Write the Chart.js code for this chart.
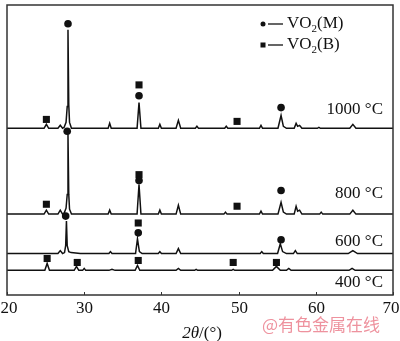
<!DOCTYPE html>
<html>
<head>
<meta charset="utf-8">
<script src="https://cdn.jsdelivr.net/npm/chart.js@4"></script>
<style>
	html, body { margin: 0; padding: 0; background: #fff; }
	#wrap { width: 400px; height: 341px; }
</style>
</head>
<body>
<div id="wrap"><canvas id="xrd"></canvas></div>
<script>
// 2θ positions and counts above each trace's own baseline
const theta1000 = [20, 24.8, 25.1, 25.4, 26.6, 26.9, 27.2, 27.4, 27.65, 27.8, 27.9, 28.0, 28.1, 28.35, 33.1, 33.3, 33.5, 36.85, 37.1, 37.35, 39.6, 39.8, 40.0, 41.9, 42.2, 42.5, 44.4, 44.6, 44.8, 48.2, 48.4, 48.6, 52.7, 52.9, 53.1, 55.1, 55.5, 55.8, 56.2, 57.2, 57.45, 57.65, 57.9, 58.2, 60.2, 60.4, 60.6, 64.4, 64.8, 65.2, 70];
const counts1000 = [0, 0, 4, 0, 0, 3, 0, 1, 6, 22, 100, 24, 6, 0, 0, 5, 0, 0, 26, 0, 0, 4, 0, 0, 8, 0, 0, 2, 0, 0, 2, 0, 0, 3, 0, 0, 13, 2, 0, 0, 5, 2, 3, 0, 0, 1, 0, 0, 4, 0, 0];

const theta800 = [20, 24.8, 25.1, 25.4, 26.6, 26.9, 27.2, 27.4, 27.65, 27.8, 27.9, 28.0, 28.1, 28.35, 33.1, 33.3, 33.5, 36.85, 37.1, 37.35, 39.6, 39.8, 40.0, 41.9, 42.2, 42.5, 48.1, 48.3, 48.5, 52.7, 52.9, 53.1, 55.1, 55.5, 55.8, 56.2, 57.2, 57.45, 57.65, 57.9, 58.2, 60.5, 60.7, 60.9, 64.4, 64.8, 65.2, 70];
const counts800 = [0, 0, 4, 0, 0, 4, 0, 1, 6, 20, 81, 20, 5, 0, 0, 4, 0, 0, 30, 0, 0, 4, 0, 0, 9, 0, 0, 2, 0, 0, 3, 0, 0, 12, 2, 0, 0, 8, 3, 4, 0, 0, 2, 0, 0, 4, 0, 0];

const theta600 = [20, 26.6, 26.9, 27.2, 27.45, 27.6, 27.7, 27.8, 28.0, 28.3, 29.5, 33.2, 33.4, 33.6, 36.65, 36.9, 37.15, 37.5, 39.6, 39.8, 40.0, 41.9, 42.2, 42.5, 52.8, 53.0, 53.2, 55.05, 55.4, 55.7, 56.2, 57.1, 57.35, 57.6, 64.2, 64.8, 65.4, 70];
const counts600 = [0, 0, 3, 0, 1, 8, 33, 8, 2, 1, 0, 0, 2, 0, 0, 15, 2, 0, 0, 2, 0, 0, 5, 0, 0, 2, 0, 0, 10, 2, 0, 0, 3, 0, 0, 3, 0, 0];

const theta400 = [20, 24.9, 25.2, 25.5, 28.7, 29.0, 29.3, 29.8, 30.0, 30.2, 33.2, 33.6, 34.0, 36.6, 36.9, 37.2, 41.9, 42.2, 42.5, 44.3, 44.5, 44.7, 49.1, 49.3, 49.5, 54.4, 54.9, 55.4, 56.2, 56.5, 56.8, 64.3, 64.7, 65.1, 70];
const counts400 = [0, 0, 7, 0, 0, 4, 0, 0, 2, 0, 0, 1, 0, 0, 5, 0, 0, 2, 0, 0, 1, 0, 0, 1, 0, 0, 4, 0, 0, 2, 0, 0, 2, 0, 0];

// vertical shift of each trace
const offsets = { t1000: 169, t800: 82, t600: 42, t400: 25 };
const traceLabels = ['1000 °C', '800 °C', '600 °C', '400 °C'];
const labelY = [188, 103, 54, 13];

// phase markers (2θ, height on the shifted scale)
const markersM = [[27.9, 275], [37.1, 202], [55.5, 190], [27.8, 166], [37.1, 116], [55.5, 106], [27.6, 80], [37.0, 63], [55.5, 56]];
const markersB = [[25.1, 178], [37.1, 213], [49.8, 176], [25.1, 92], [37.1, 122], [49.8, 90], [37.0, 73], [25.2, 37], [29.1, 33], [37.0, 35], [49.3, 33], [54.9, 33]];

const xTicks = [20, 30, 40, 50, 60, 70];

function toPoints(theta, counts, offset) {
	return theta.map((t, i) => ({ x: t, y: counts[i] + offset }));
}

function lineSet(theta, counts, offset) {
	return {
		type: 'line',
		data: toPoints(theta, counts, offset),
		borderColor: '#111',
		borderWidth: 1.5,
		pointRadius: 0,
		tension: 0,
		fill: false
	};
}

const serif = '"Liberation Serif", "DejaVu Serif", serif';

// frame, inner ticks, tick labels, trace labels, legend, axis title and watermark
const decorations = {
	id: 'decorations',
	afterDraw(chart) {
		const ctx = chart.ctx;
		const area = chart.chartArea;
		const xs = chart.scales.x;
		const ys = chart.scales.y;
		ctx.save();
		ctx.strokeStyle = '#333';
		ctx.lineWidth = 1.5;
		ctx.strokeRect(area.left, area.top, area.right - area.left, area.bottom - area.top);
		ctx.lineWidth = 1;
		ctx.fillStyle = '#111';
		ctx.font = '17px ' + serif;
		ctx.textAlign = 'center';
		ctx.textBaseline = 'middle';
		xTicks.forEach(t => {
			const px = Math.round(xs.getPixelForValue(t)) + 0.5;
			ctx.beginPath();
			ctx.moveTo(px, area.bottom);
			ctx.lineTo(px, area.bottom - 3);
			ctx.stroke();
			let lx = px;
			if (t === 20) lx = Math.max(px, 9);
			if (t === 70) lx = Math.min(px, 391);
			ctx.fillText(String(t), lx, area.bottom + 14);
		});

		ctx.textAlign = 'right';
		traceLabels.forEach((lab, i) => {
			ctx.fillText(lab, 383, ys.getPixelForValue(labelY[i]));
		});

		// legend
		const rows = [{ y: 24, style: 'circle', text: 'M' }, { y: 45, style: 'rect', text: 'B' }];
		rows.forEach(r => {
			ctx.fillStyle = '#111';
			if (r.style === 'circle') {
				ctx.beginPath();
				ctx.arc(263, r.y, 2.5, 0, Math.PI * 2);
				ctx.fill();
			} else {
				ctx.fillRect(260.5, r.y - 2.5, 5, 5);
			}
			ctx.lineWidth = 1.3;
			ctx.strokeStyle = '#111';
			ctx.beginPath();
			ctx.moveTo(268, r.y);
			ctx.lineTo(283, r.y);
			ctx.stroke();
			ctx.textAlign = 'left';
			ctx.textBaseline = 'middle';
			ctx.font = '17px ' + serif;
			ctx.fillText('VO', 287, r.y);
			let w = ctx.measureText('VO').width;
			ctx.font = '11px ' + serif;
			ctx.fillText('2', 287 + w, r.y + 5);
			w += ctx.measureText('2').width;
			ctx.font = '17px ' + serif;
			ctx.fillText('(' + r.text + ')', 287 + w, r.y);
		});

		// axis title 2θ/(°)
		ctx.textBaseline = 'alphabetic';
		ctx.textAlign = 'left';
		const parts = [['2', 'italic 17px '], ['θ', 'italic 17px '], ['/(°)', '17px ']];
		let total = 0;
		parts.forEach(p => { ctx.font = p[1] + serif; total += ctx.measureText(p[0]).width; });
		let x = 202 - total / 2;
		parts.forEach(p => {
			ctx.font = p[1] + serif;
			ctx.fillText(p[0], x, 338);
			x += ctx.measureText(p[0]).width;
		});

		// watermark
		ctx.fillStyle = 'rgba(232, 110, 125, 0.75)';
		ctx.font = '17px "Noto Sans CJK SC", sans-serif';
		ctx.textAlign = 'left';
		ctx.textBaseline = 'middle';
		ctx.fillText('@有色金属在线', 262, 325);
		ctx.restore();
	}
};

const chart = new Chart(document.getElementById('xrd'), {
	type: 'scatter',
	data: {
		datasets: [
			lineSet(theta1000, counts1000, offsets.t1000),
			lineSet(theta800, counts800, offsets.t800),
			lineSet(theta600, counts600, offsets.t600),
			lineSet(theta400, counts400, offsets.t400),
			{
				data: markersM.map(m => ({ x: m[0], y: m[1] })),
				pointStyle: 'circle',
				pointRadius: 3.8,
				backgroundColor: '#111',
				borderWidth: 0
			},
			{
				data: markersB.map(m => ({ x: m[0], y: m[1] })),
				pointStyle: 'rect',
				pointRadius: 5,
				backgroundColor: '#111',
				borderWidth: 0
			}
		]
	},
	options: {
		responsive: true,
		maintainAspectRatio: false,
		animation: false,
		layout: { padding: { top: 1, bottom: 46, left: 7, right: 7 } },
		plugins: {
			legend: { display: false },
			tooltip: { enabled: false }
		},
		scales: {
			x: {
				type: 'linear',
				display: false,
				min: 20,
				max: 70
			},
			y: {
				display: false,
				min: 0,
				max: 294
			}
		}
	},
	plugins: [decorations]
});
</script>
</body>
</html>
